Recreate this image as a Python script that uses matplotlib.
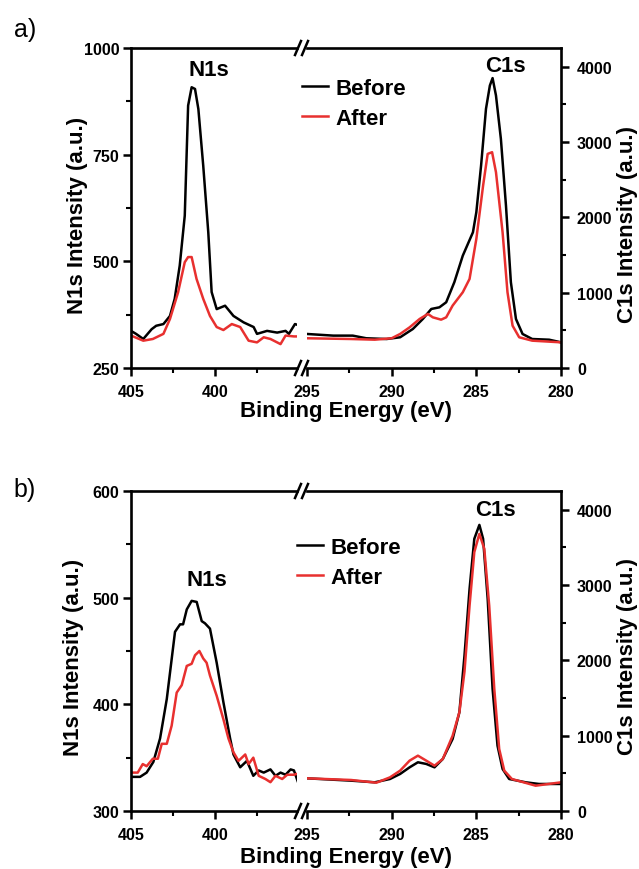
import matplotlib
matplotlib.use("Agg")
import matplotlib.pyplot as plt
from matplotlib.lines import Line2D

plt.rcParams['font.family'] = ['Liberation Sans', 'DejaVu Sans']
plt.rcParams['font.weight'] = 'bold'

BLACK = '#000000'
RED = '#e8302f'

# ---- panel a) ----
a_n1s_before_e = [405.0, 404.7, 404.27, 403.77, 403.5, 403.07, 402.68, 402.4, 402.1, 401.8, 401.6, 401.39,
                  401.19, 400.99, 400.7, 400.4, 400.2, 399.9, 399.4, 398.9, 398.3, 397.7, 397.5, 396.9,
                  396.3, 395.8, 395.6, 395.24, 395.0]
a_n1s_before_i = [337, 330, 318, 341, 349, 353, 372, 412, 490, 607, 865, 908,
                  904, 857, 724, 568, 428, 388, 396, 372, 357, 346, 330, 337,
                  333, 337, 330, 353, 350]
a_n1s_after_e = [405.0, 404.27, 403.7, 403.07, 402.68, 402.2, 401.8, 401.6, 401.39, 401.1, 400.7, 400.3,
                 399.9, 399.5, 399.0, 398.5, 398.0, 397.5, 397.1, 396.7, 396.1, 395.8, 395.3, 395.0]
a_n1s_after_i = [326, 314, 318, 330, 365, 427, 498, 510, 510, 459, 412, 372,
                 346, 339, 353, 346, 314, 310, 322, 318, 306, 326, 324, 324]
a_c1s_before_e = [295, 293.45, 292.3, 291.5, 290.3, 289.5, 288.75, 288.16, 287.66, 287.18, 286.78, 286.3,
                  285.8, 285.2, 285.0, 284.72, 284.43, 284.2, 284.04, 283.84, 283.55, 283.25, 282.96,
                  282.66, 282.27, 281.7, 280.7, 280.0]
a_c1s_before_i = [452, 430, 430, 395, 385, 408, 518, 651, 784, 806, 873, 1139,
                  1492, 1803, 2069, 2688, 3442, 3752, 3850, 3619, 3043, 2157, 1139,
                  651, 452, 385, 376, 341]
a_c1s_after_e = [295, 292.4, 291.0, 290.0, 289.5, 288.94, 288.35, 287.86, 287.57, 287.08, 286.78, 286.4,
                 285.8, 285.4, 285.0, 284.6, 284.33, 284.07, 283.84, 283.45, 283.16, 282.86, 282.47,
                 281.7, 280.0]
a_c1s_after_i = [395, 385, 376, 395, 452, 540, 651, 718, 673, 642, 673, 829,
                 1006, 1183, 1714, 2423, 2844, 2866, 2600, 1803, 1006, 562, 408,
                 363, 341]

# ---- panel b) ----
b_n1s_before_e = [405.0, 404.46, 404.07, 403.67, 403.27, 402.87, 402.38, 402.08, 401.9, 401.68, 401.39,
                  401.09, 400.79, 400.6, 400.3, 399.9, 399.5, 399.1, 398.9, 398.5, 398.1, 397.72, 397.4,
                  397.1, 396.7, 396.4, 396.1, 395.8, 395.5, 395.3, 395.08]
b_n1s_before_i = [332, 332, 336, 346, 368, 405, 468, 475, 475, 489, 497,
                  496, 478, 476, 471, 439, 402, 368, 353, 341, 347, 333, 338,
                  336, 339, 333, 336, 334, 339, 338, 328]
b_n1s_after_e = [405.0, 404.6, 404.3, 404.07, 403.7, 403.4, 403.17, 402.87, 402.58, 402.28, 401.98, 401.68,
                 401.39, 401.19, 400.93, 400.7, 400.5, 400.3, 399.9, 399.5, 399.2, 398.9, 398.6, 398.2,
                 398.0, 397.72, 397.4, 397.0, 396.7, 396.4, 396.0, 395.7, 395.3, 395.08]
b_n1s_after_i = [336, 336, 344, 342, 349, 349, 363, 363, 380, 411, 418, 436,
                 438, 446, 450, 443, 439, 427, 408, 386, 368, 355, 347, 353,
                 344, 350, 333, 330, 327, 333, 330, 334, 334, 335]
b_c1s_before_e = [295, 292.4, 291.0, 290.1, 289.5, 288.94, 288.45, 287.96, 287.47, 286.98, 286.4, 286.0,
                  285.7, 285.4, 285.12, 284.82, 284.6, 284.33, 284.04, 283.75, 283.45, 283.06, 282.08,
                  281.3, 280.0]
b_c1s_before_i = [434, 403, 381, 425, 492, 580, 647, 625, 580, 691, 957, 1312,
                  2064, 2950, 3615, 3800, 3615, 2817, 1621, 868, 558, 425, 381,
                  359, 359]
b_c1s_after_e = [295, 292.4, 290.9, 290.1, 289.5, 288.94, 288.45, 287.96, 287.47, 286.98, 286.4, 286.0,
                 285.7, 285.4, 285.12, 284.82, 284.53, 284.24, 283.94, 283.65, 283.35, 282.9, 281.5, 280.0]
b_c1s_after_i = [434, 412, 376, 447, 536, 669, 735, 669, 602, 691, 1000, 1312,
                 1850, 2728, 3438, 3681, 3482, 2728, 1621, 824, 536, 425, 336, 381]

a_n1s_ticks = [250, 500, 750, 1000]
b_n1s_ticks = [300, 400, 500, 600]
c1s_ticks = [0, 1000, 2000, 3000, 4000]

W, H = 639.0, 870.0
fig = plt.figure(figsize=(6.39, 8.70), dpi=100)


def fx(px):
    return px / W


def fy(py):
    return 1 - py / H


def panel(top, bot, n1s_ticks, n1s_b, n1s_a, c1s_b, c1s_a, tag, n1s_pos, c1s_pos, leg_pos,
          ylab_l, ylab_r, xlab_y):
    h = (bot - top) / H
    axl = fig.add_axes([fx(131), fy(bot), fx(297) - fx(131), h])
    axr = fig.add_axes([fx(307), fy(bot), fx(561) - fx(307), h])

    axl.plot(n1s_b[0], n1s_b[1], color=BLACK, lw=1.8)
    axl.plot(n1s_a[0], n1s_a[1], color=RED, lw=1.8)
    axr.plot(c1s_b[0], c1s_b[1], color=BLACK, lw=1.8, label='Before')
    axr.plot(c1s_a[0], c1s_a[1], color=RED, lw=1.8, label='After')

    step = n1s_ticks[1] - n1s_ticks[0]
    axl.set_xlim(405, 395 + 10 * (1 - 166 / 168.0))
    axl.set_ylim(n1s_ticks[0], n1s_ticks[-1])
    axl.set_xticks([405, 400])
    axl.set_xticks([402.5, 397.5], minor=True)
    axl.set_yticks(n1s_ticks)
    axl.set_yticks([t + step / 2 for t in n1s_ticks[:-1]], minor=True)
    axl.spines['right'].set_visible(False)

    axr.set_xlim(295, 280)
    axr.set_ylim(0, 4250)
    axr.set_xticks([295, 290, 285, 280])
    axr.set_xticks([292.5, 287.5, 282.5], minor=True)
    axr.yaxis.tick_right()
    axr.set_yticks(c1s_ticks)
    axr.set_yticks([500, 1500, 2500, 3500], minor=True)
    axr.spines['left'].set_visible(False)

    for ax in (axl, axr):
        for s in ax.spines.values():
            s.set_linewidth(1.9)
        ax.tick_params(which='major', direction='out', length=6, width=1.8, labelsize=11.5)
        ax.tick_params(which='minor', direction='out', length=3.5, width=1.5)
        ax.tick_params(axis='x', which='major', pad=5.5)
        for lab in ax.get_xticklabels() + ax.get_yticklabels():
            lab.set_fontweight('bold')
    axl.tick_params(axis='y', which='major', pad=2.5)
    axr.tick_params(axis='y', which='major', pad=5.5)

    # break marks
    for yb in (top, bot):
        for x0 in (295, 302):
            fig.add_artist(Line2D([fx(x0), fx(x0 + 6)], [fy(yb + 7), fy(yb - 7)],
                                  color=BLACK, lw=1.8, transform=fig.transFigure))

    fig.text(fx(25), fy(tag[1]), tag[0], fontsize=18, fontweight='normal', ha='center', va='center')
    fig.text(fx(n1s_pos[0]), fy(n1s_pos[1]), 'N1s', fontsize=16, ha='center', va='center')
    fig.text(fx(c1s_pos[0]), fy(c1s_pos[1]), 'C1s', fontsize=16, ha='center', va='center')
    fig.text(fx(ylab_l[0]), fy(ylab_l[1]), 'N1s Intensity (a.u.)', fontsize=16, rotation=90,
             ha='center', va='center')
    fig.text(fx(ylab_r[0]), fy(ylab_r[1]), 'C1s Intensity (a.u.)', fontsize=16, rotation=90,
             ha='center', va='center')
    fig.text(fx(346), fy(xlab_y), 'Binding Energy (eV)', fontsize=16, ha='center', va='center')

    leg = axr.legend(loc='upper left', bbox_to_anchor=(fx(leg_pos[0]), fy(leg_pos[1])),
                     bbox_transform=fig.transFigure, frameon=False, fontsize=16,
                     handlelength=1.15, handletextpad=0.35, labelspacing=0.4,
                     borderpad=0, borderaxespad=0)
    for t in leg.get_texts():
        t.set_fontweight('bold')


panel(49, 369, a_n1s_ticks,
      (a_n1s_before_e, a_n1s_before_i), (a_n1s_after_e, a_n1s_after_i),
      (a_c1s_before_e, a_c1s_before_i), (a_c1s_after_e, a_c1s_after_i),
      ('a)', 30), (209, 71), (505, 66), (302, 79), (77, 215), (628, 225), 412)
panel(492, 812, b_n1s_ticks,
      (b_n1s_before_e, b_n1s_before_i), (b_n1s_after_e, b_n1s_after_i),
      (b_c1s_before_e, b_c1s_before_i), (b_c1s_after_e, b_c1s_after_i),
      ('b)', 490), (207, 581), (495, 511), (297, 538), (73, 657), (628, 657), 858)

fig.savefig('out.png', dpi=100)
